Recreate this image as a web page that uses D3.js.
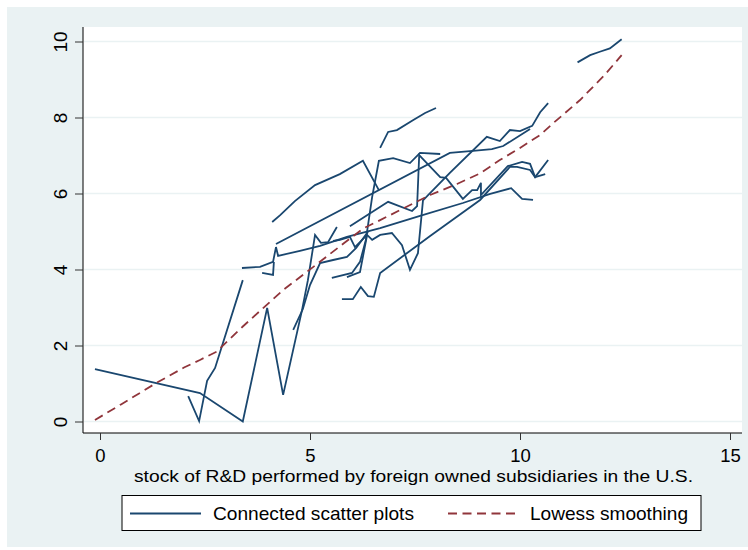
<!DOCTYPE html>
<html><head><meta charset="utf-8">
<script src="https://cdn.jsdelivr.net/npm/d3@7"></script>
<style>body{margin:0;background:#fff}svg{display:block;font-family:"Liberation Sans",Arial,sans-serif}</style>
</head><body><svg id="c" width="748" height="550"></svg>
<script>
// Connected scatter series (x = R&D stock by foreign subsidiaries, y = outcome)
const seriesA = [[-0.12,1.38],[2.38,0.75],[3.40,0.0],[3.98,2.99],[4.36,0.70],[4.81,2.93],[4.95,3.72],[5.12,4.91],[5.26,4.70],[5.43,4.72],[5.64,5.12]];
const seriesB = [[2.10,0.67],[2.36,0.01],[2.55,1.07],[2.74,1.41],[3.40,3.72]];
const seriesC = [[3.38,4.04],[3.81,4.07],[4.12,4.20],[4.19,4.59],[4.24,4.36],[4.76,4.49],[5.24,4.62],[5.88,4.86],[6.67,5.09],[7.62,5.41],[8.64,5.75],[9.29,5.99],[9.79,6.14],[10.05,5.86],[10.31,5.83]];
const seriesD = [[3.86,3.91],[4.12,3.86],[4.14,4.20]];
const seriesE = [[4.19,4.67],[8.33,7.07],[8.88,7.12],[9.33,7.17],[9.60,7.25],[10.24,7.70]];
const seriesF = [[4.10,5.25],[4.29,5.43],[4.64,5.80],[5.12,6.22],[5.71,6.51],[6.26,6.86],[6.64,6.09]];
const seriesG = [[5.52,3.78],[6.00,3.91],[6.19,4.20],[6.33,4.78],[6.48,5.91],[6.64,6.86],[6.98,6.93],[7.38,6.80],[7.62,7.07],[8.10,7.04]];
const seriesH = [[5.55,4.75],[5.71,4.78],[5.95,4.86],[6.07,4.59],[6.36,4.91],[6.48,4.78],[6.67,4.91],[6.95,4.96],[7.19,4.64],[7.38,3.99],[7.57,4.43],[7.69,5.82],[8.33,6.54],[9.21,7.49],[9.52,7.38],[9.76,7.67],[10.0,7.64],[10.29,7.78],[10.48,8.14],[10.67,8.38]];
const seriesK = [[5.95,5.14],[6.86,5.78],[7.43,5.54],[7.55,5.67],[7.60,7.01],[8.10,6.43],[8.24,6.41],[8.64,5.86],[8.86,6.09],[8.98,6.09],[9.07,6.28],[9.07,5.96],[9.71,6.72],[10.05,6.83],[10.24,6.78],[10.36,6.43],[10.60,6.51]];
const seriesI = [[5.76,3.22],[6.02,3.22],[6.21,3.54],[6.38,3.30],[6.52,3.28],[6.67,3.91],[7.86,4.88],[9.05,5.83],[9.76,6.70],[9.93,6.70],[10.24,6.62],[10.36,6.43],[10.67,6.88]];
const seriesL = [[5.88,3.80],[6.19,3.93],[6.29,4.51],[6.36,4.91]];
const seriesM = [[6.67,7.20],[6.86,7.62],[7.07,7.67],[7.45,7.93],[7.74,8.12],[8.00,8.25]];
const seriesN = [[11.37,9.45],[11.67,9.64],[11.90,9.73],[12.14,9.82],[12.42,10.06]];
const seriesO = [[4.60,2.41],[4.83,2.96],[5.00,3.59],[5.24,4.17],[5.55,4.25],[5.88,4.33],[6.10,4.57],[6.38,4.99]];
const connected = [seriesA,seriesB,seriesC,seriesD,seriesE,seriesF,seriesG,seriesH,seriesK,seriesI,seriesL,seriesM,seriesN,seriesO];

// Lowess smoothing curve
const lowessX = [-0.12,0.5,1.35,2.0,2.38,2.78,3.4,3.97,4.36,5.08,5.7,6.27,6.67,7.3,7.86,8.5,9.05,9.52,10.0,10.48,10.79,11.43,12.0,12.42];
const lowessY = [0.04,0.45,1.02,1.42,1.62,1.84,2.5,3.07,3.46,4.07,4.6,5.08,5.30,5.65,5.96,6.25,6.53,6.88,7.2,7.54,7.85,8.46,9.1,9.64];

const xTicks = [0,5,10,15];
const yTicks = [0,2,4,6,8,10];
const xTitle = "stock of R&D performed by foreign owned subsidiaries in the U.S.";
const legendLabels = ["Connected scatter plots","Lowess smoothing"];

const navy = "#1a476f", maroon = "#90353b", bg = "#eaf2f3";
const svg = d3.select("#c");
const x = d3.scaleLinear().domain([0,15]).range([100,730]);
const y = d3.scaleLinear().domain([0,10]).range([421.5,41.5]);

svg.append("rect").attr("x",7).attr("y",7).attr("width",741).attr("height",540).attr("fill",bg);
svg.append("rect").attr("x",83).attr("y",27).attr("width",659).attr("height",406).attr("fill","#fff");

// gridlines
svg.append("g").selectAll("line").data(yTicks).join("line")
  .attr("x1",84).attr("x2",742).attr("y1",d=>y(d)).attr("y2",d=>y(d))
  .attr("stroke",bg).attr("stroke-width",1.6);

// axes
const yAxis = d3.axisLeft(y).tickValues(yTicks).tickSize(8).tickPadding(8).tickFormat(d3.format("d"));
const gy = svg.append("g").attr("transform","translate(83,0)").call(yAxis);
gy.select(".domain").attr("d","M0,27V433").attr("stroke","#000");
gy.selectAll(".tick line").attr("stroke","#333");
gy.selectAll(".tick text").attr("font-size",19).attr("fill","#000")
  .attr("text-anchor","middle").attr("x",null).attr("dy",null)
  .attr("transform","translate(-16,0) rotate(-90)");

const xAxis = d3.axisBottom(x).tickValues(xTicks).tickSize(7).tickFormat(d3.format("d"));
const gx = svg.append("g").attr("transform","translate(0,433)").call(xAxis);
gx.select(".domain").attr("d","M83,0H742").attr("stroke","#000");
gx.selectAll(".tick line").attr("stroke","#333");
gx.selectAll(".tick text").attr("font-size",18.5).attr("fill","#000").attr("y",29).attr("dy",null);

// series
const line = d3.line().x(d=>x(d[0])).y(d=>y(d[1]));
svg.append("g").selectAll("path").data(connected).join("path")
  .attr("d",line).attr("fill","none").attr("stroke",navy).attr("stroke-width",1.8)
  .attr("stroke-linejoin","miter");

const lowess = lowessX.map((v,i)=>[v,lowessY[i]]);
svg.append("path").attr("d",line(lowess)).attr("fill","none").attr("stroke",maroon)
  .attr("stroke-width",1.8).attr("stroke-dasharray","9,5.5");

// x title
svg.append("text").attr("x",413.5).attr("y",481.5).attr("text-anchor","middle")
  .attr("font-size",17).attr("textLength",559).attr("lengthAdjust","spacingAndGlyphs").text(xTitle);

// legend
const lg = svg.append("g");
lg.append("rect").attr("x",122).attr("y",495.5).attr("width",579).attr("height",35)
  .attr("fill","#fff").attr("stroke","#000").attr("stroke-width",1);
lg.append("line").attr("x1",130).attr("x2",201).attr("y1",513.5).attr("y2",513.5)
  .attr("stroke",navy).attr("stroke-width",1.8);
lg.append("text").attr("x",213).attr("y",520).attr("font-size",19)
  .attr("textLength",201).attr("lengthAdjust","spacingAndGlyphs").text(legendLabels[0]);
lg.append("line").attr("x1",448).attr("x2",518).attr("y1",513.5).attr("y2",513.5)
  .attr("stroke",maroon).attr("stroke-width",1.8).attr("stroke-dasharray","9,5.5");
lg.append("text").attr("x",530).attr("y",520).attr("font-size",19)
  .attr("textLength",158).attr("lengthAdjust","spacingAndGlyphs").text(legendLabels[1]);
</script></body></html>
